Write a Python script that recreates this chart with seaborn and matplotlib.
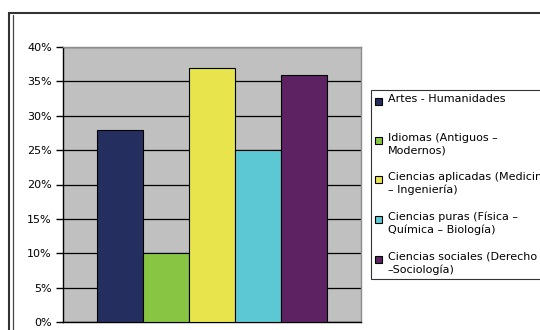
import seaborn as sns
import matplotlib.pyplot as plt
import pandas as pd
from matplotlib.patches import Rectangle
from matplotlib.lines import Line2D
from matplotlib.legend_handler import HandlerPatch
from matplotlib.ticker import FuncFormatter

# datos del grafico
areas = ['Artes - Humanidades\n',
         'Idiomas (Antiguos –\nModernos)',
         'Ciencias aplicadas (Medicina\n– Ingeniería)',
         'Ciencias puras (Física –\nQuímica – Biología)',
         'Ciencias sociales (Derecho\n–Sociología)']
porcentajes = [28, 10, 37, 25, 36]
colores = ['#252F5F', '#88C543', '#E8E44B', '#5CC8D3', '#5C2262']

df = pd.DataFrame({'grupo': [''] * len(areas), 'area': areas, 'pct': porcentajes})

sns.set_style('white')
plt.rcParams['font.family'] = ['DejaVu Sans']
plt.rcParams['text.color'] = 'black'

fig = plt.figure(figsize=(5.4, 3.3), dpi=100)
ax = fig.add_axes([63 / 540, 1 - 322 / 330, 298 / 540, 275 / 330])
ax.set_facecolor('#C0C0C0')

sns.barplot(data=df, x='grupo', y='pct', hue='area', palette=colores,
            width=0.77, edgecolor='black', linewidth=0.8, saturation=1,
            ax=ax, zorder=3, legend=True)

ax.set_ylim(0, 40)
ax.set_xlim(-0.5, 0.5)
ax.set_yticks(range(0, 41, 5))
ax.yaxis.set_major_formatter(FuncFormatter(lambda v, p: '%d%%' % v))
ax.tick_params(axis='y', direction='out', length=5, width=1, color='black',
               labelcolor='black', labelsize=8, left=True, pad=3)
ax.set_xticks([])
ax.set_xlabel('')
ax.set_ylabel('')
ax.grid(axis='y', color='black', linewidth=0.9, zorder=1)
ax.set_axisbelow(True)
for s in ['top', 'right']:
    ax.spines[s].set_color('#8C8C8C')
    ax.spines[s].set_linewidth(1)
for s in ['left', 'bottom']:
    ax.spines[s].set_color('black')
    ax.spines[s].set_linewidth(1)


# cuadrito de la leyenda alineado con la primera linea del texto
def cuadro_arriba(legend, orig_handle, xdescent, ydescent, width, height, fontsize):
    s = 0.62 * fontsize
    return Rectangle((-xdescent, -ydescent + height - s - 0.25 * fontsize), s, s)


handles, labels = ax.get_legend_handles_labels()
ax.legend_.remove()
leg = fig.legend(handles, labels, loc='upper left',
                 bbox_to_anchor=(371 / 540, 1 - 90 / 330),
                 fontsize=8, frameon=True, fancybox=False,
                 edgecolor='black', handlelength=0.62, handleheight=2.5,
                 handletextpad=0.55, labelspacing=1.45, borderpad=0.35,
                 borderaxespad=0,
                 handler_map={h: HandlerPatch(patch_func=cuadro_arriba) for h in handles})
leg.get_frame().set_linewidth(0.8)
for t in leg.get_texts():
    t.set_linespacing(1.35)

# marco exterior del grafico (recortado a la derecha y abajo)
fig.patches.append(Rectangle((9 / 540, -0.1), 1.2, 1.1 - 13 / 330,
                             transform=fig.transFigure, fill=False,
                             edgecolor='#333333', linewidth=1.5))
fig.lines.append(Line2D([12.5 / 540, 12.5 / 540], [0, 1 - 15 / 330],
                        transform=fig.transFigure, color='#444444', linewidth=0.9))

plt.savefig('out.png', dpi=100)
